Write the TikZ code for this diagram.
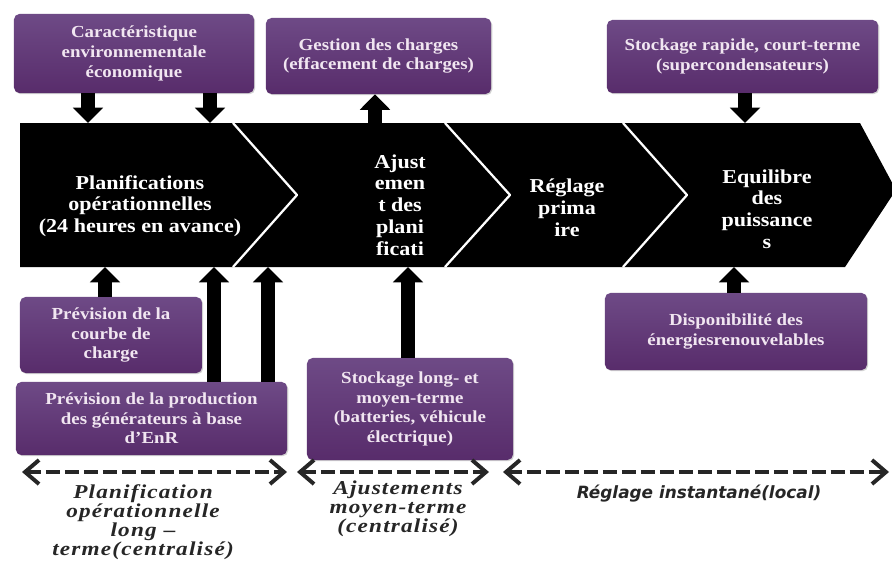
\documentclass[tikz,border=0pt]{standalone}
\usepackage{fontspec}
\setmainfont{Liberation Serif}
\newfontfamily\boxfont[FakeStretch=1.12]{Liberation Serif}
\newfontfamily\lblfont[FakeStretch=1.18,LetterSpace=6]{Liberation Serif}
\newfontfamily\instfont{DejaVu Sans}
\usepackage{tikz}
\usetikzlibrary{arrows.meta,positioning,shadows}
\definecolor{boxtop}{HTML}{6E4A86}
\definecolor{boxbot}{HTML}{582C6B}
\definecolor{boxtext}{HTML}{F1E6F1}
\definecolor{dashink}{HTML}{262626}

\begin{document}
\begin{tikzpicture}[x=0.025cm,y=-0.025cm,line join=round,
  box/.style={rounded corners=4pt,top color=boxtop,bottom color=boxbot,draw=none,
    text=boxtext,align=center,inner sep=2pt,
    font=\boxfont\bfseries\fontsize{12}{14}\selectfont,
    drop shadow={opacity=.35,shadow xshift=.8pt,shadow yshift=-.8pt}},
  stage/.style={text=white,align=center,font=\boxfont\bfseries\fontsize{14}{15.5}\selectfont},
  blk/.style={line width=10pt,-{Triangle[width=21pt,length=11pt]}},
  spanarr/.style={dashink,line width=2.4pt,dash pattern=on 10pt off 3.5pt,
    {Straight Barb[length=3.5mm,width=6mm,line width=2.8pt]}-{Straight Barb[length=3.5mm,width=6mm,line width=2.8pt]}},
  lbl/.style={dashink,align=center,font=\lblfont\bfseries\itshape\fontsize{14}{13.4}\selectfont},
  instlbl/.style={dashink,font=\instfont\bfseries\itshape\fontsize{12}{14}\selectfont}]
\useasboundingbox (0,0) rectangle (892,561);
\fill[white] (0,0) rectangle (892,561);
% bande des etapes
\fill[black] (20,123) -- (860,123) -- (896,190) -- (845,267) -- (20,267) -- cycle;
\draw[white,line width=1.6pt] (233,123) -- (297,195) -- (233,267);
\draw[white,line width=1.6pt] (445,123) -- (510,195) -- (445,267);
\draw[white,line width=1.6pt] (623,123) -- (687,195) -- (623,267);
\node[stage] (plan) at (140,206) {Planifications\\opérationnelles\\(24 heures en avance)};
\node[stage] (ajust) at (400,205) {Ajust\\emen\\t des\\plani\\ficati};
\node[stage] (regl) at (567,208) {Réglage\\prima\\ire};
\node[stage] (equil) at (767,209) {Equilibre\\des\\puissance\\s};
% boites
\node[box,minimum width=6cm,minimum height=1.98cm] (caract) at (134,53.5) {Caractéristique\\environnementale\\économique};
\node[box,minimum width=5.63cm,minimum height=1.9cm] (gestion) at (378.5,56) {Gestion des charges\\(effacement de charges)};
\node[box,minimum width=6.78cm,minimum height=1.83cm] (rapide) at (742.5,56.5) {Stockage rapide, court-terme\\(supercondensateurs)};
\node[box,minimum width=4.55cm,minimum height=1.9cm] (courbe) at (111,335) {Prévision de la\\courbe de\\charge};
\node[box,minimum width=6.78cm,minimum height=1.83cm] (prod) at (151.5,418.5) {Prévision de la production\\des générateurs à base\\d’EnR};
\node[box,minimum width=5.15cm,minimum height=2.55cm] (stock) at (410,409) {Stockage long- et\\moyen-terme\\(batteries, véhicule\\électrique)};
\node[box,minimum width=6.55cm,minimum height=1.93cm] (dispo) at (736,331.5) {Disponibilité des\\énergiesrenouvelables};
% points d'entree sur la bande
\coordinate (t1) at (88,123);
\coordinate (t2) at (210,123);
\coordinate (t3) at (375,123);
\coordinate (t4) at (745,123);
\coordinate (b1) at (105,267);
\coordinate (b2) at (214,267);
\coordinate (b3) at (268,267);
\coordinate (b4) at (408,267);
\coordinate (b5) at (734,267);
\draw[blk] (caract.south -| t1) -- (t1);
\draw[blk] (caract.south -| t2) -- (t2);
\draw[blk] (t3) -- (gestion.south -| t3);
\draw[blk] (rapide.south -| t4) -- (t4);
\draw[blk] (courbe.north -| b1) -- (b1);
\draw[blk] (prod.north -| b2) -- (b2);
\draw[blk] (prod.north -| b3) -- (b3);
\draw[blk] (stock.north -| b4) -- (b4);
\draw[blk] (dispo.north -| b5) -- (b5);
% horizons temporels
\coordinate (s0) at (22,472);
\coordinate (s1) at (287,472);
\coordinate (s2) at (297,472);
\coordinate (s3) at (489,472);
\coordinate (s4) at (503,472);
\coordinate (s5) at (889,472);
\draw[spanarr] (s0) -- (s1);
\draw[spanarr] (s2) -- (s3);
\draw[spanarr] (s4) -- (s5);
\node[lbl] (lplan) at (143,522) {Planification\\opérationnelle\\long –\\terme(centralisé)};
\node[lbl] (lajust) at (398,509) {Ajustements\\moyen-terme\\(centralisé)};
\node[instlbl] (linst) at (699,494) {Réglage instantané(local)};
\end{tikzpicture}
\end{document}
